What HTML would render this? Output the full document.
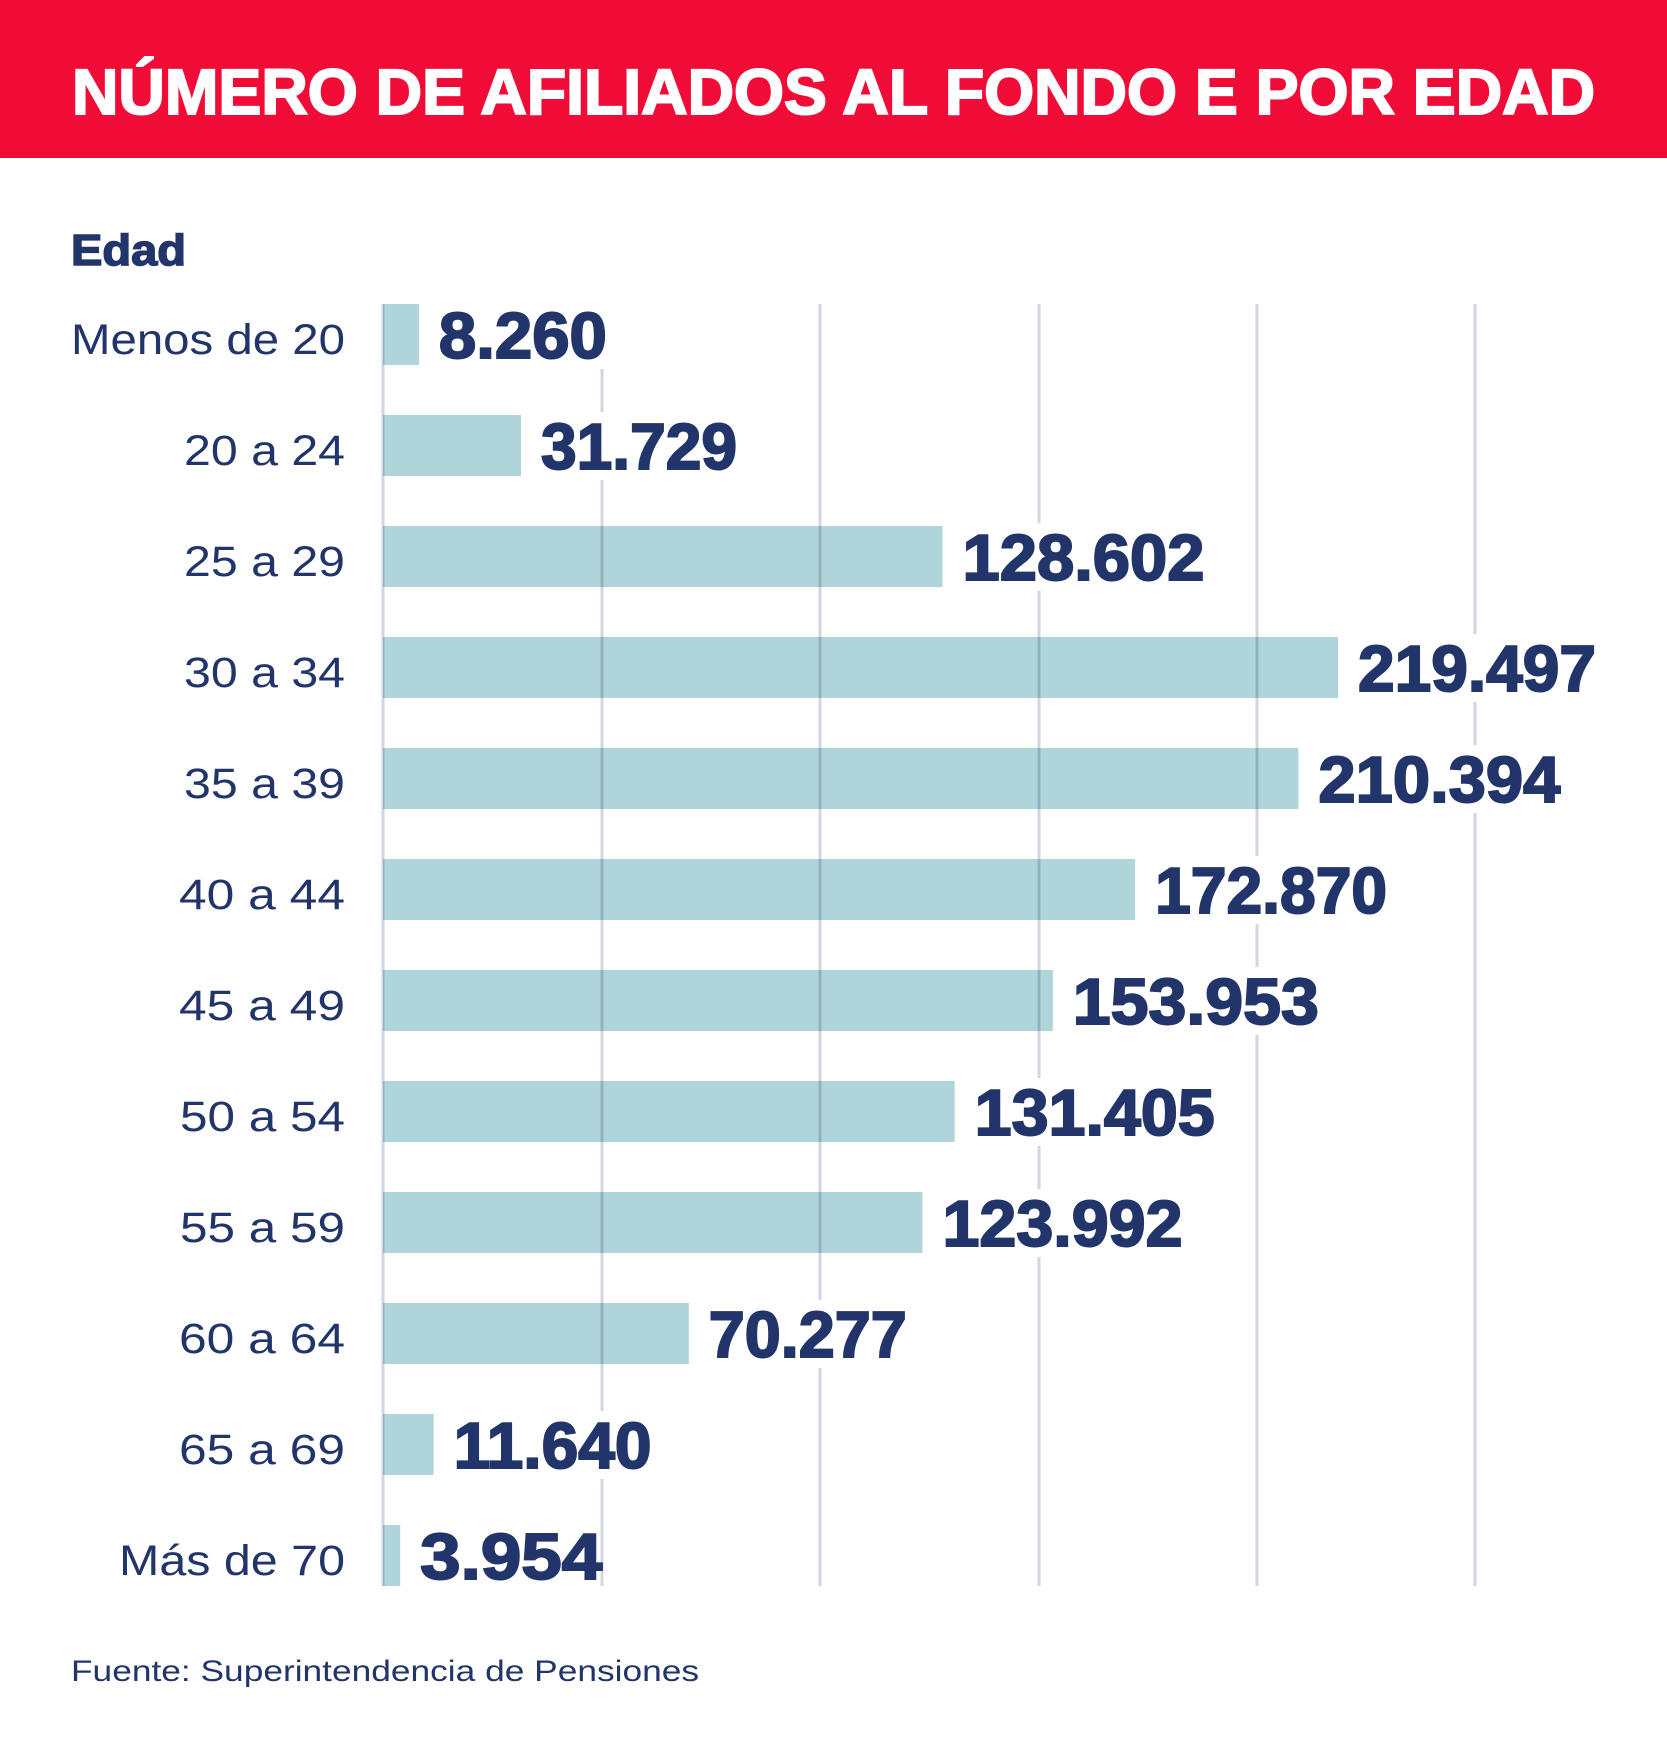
<!DOCTYPE html>
<html><head><meta charset="utf-8"><style>html,body{margin:0;padding:0;background:#fff}svg{display:block}</style></head>
<body>
<svg width="1667" height="1758" viewBox="0 0 1667 1758" xmlns="http://www.w3.org/2000/svg" font-family="Liberation Sans, sans-serif">
<rect x="0" y="0" width="1667" height="158" fill="#f00c36"/>
<text x="72" y="114" font-size="64" font-weight="bold" fill="#fff" stroke="#fff" stroke-width="2" textLength="1523" lengthAdjust="spacingAndGlyphs">NÚMERO DE AFILIADOS AL FONDO E POR EDAD</text>
<text x="71" y="265" font-size="44" font-weight="bold" fill="#22356b" stroke="#22356b" stroke-width="1.5" textLength="115" lengthAdjust="spacingAndGlyphs">Edad</text>
<g stroke="#d3d6e2" stroke-width="3">
<line x1="383" y1="304" x2="383" y2="1586"/>
<line x1="602" y1="304" x2="602" y2="1586"/>
<line x1="820" y1="304" x2="820" y2="1586"/>
<line x1="1039" y1="304" x2="1039" y2="1586"/>
<line x1="1257" y1="304" x2="1257" y2="1586"/>
<line x1="1475" y1="304" x2="1475" y2="1586"/>
</g>
<g fill="#afd4d9" style="mix-blend-mode:multiply">
<rect x="383" y="304" width="35.9" height="61"/>
<rect x="383" y="415" width="138" height="61"/>
<rect x="383" y="526" width="559.5" height="61"/>
<rect x="383" y="637" width="955" height="61"/>
<rect x="383" y="748" width="915.4" height="61"/>
<rect x="383" y="859" width="752.1" height="61"/>
<rect x="383" y="970" width="669.8" height="61"/>
<rect x="383" y="1081" width="571.7" height="61"/>
<rect x="383" y="1192" width="539.5" height="61"/>
<rect x="383" y="1303" width="305.8" height="61"/>
<rect x="383" y="1414" width="50.6" height="61"/>
<rect x="383" y="1525" width="17.2" height="61"/>
</g>
<g fill="#fff">
<rect x="432.9" y="301" width="180" height="68"/>
<rect x="535" y="412" width="214" height="68"/>
<rect x="956.5" y="523" width="250" height="68"/>
<rect x="1352" y="634" width="250" height="68"/>
<rect x="1312.4" y="745" width="250" height="68"/>
<rect x="1149.1" y="856" width="250" height="68"/>
<rect x="1066.8" y="967" width="250" height="68"/>
<rect x="968.7" y="1078" width="250" height="68"/>
<rect x="936.5" y="1189" width="250" height="68"/>
<rect x="702.8" y="1300" width="214" height="68"/>
<rect x="447.6" y="1411" width="214" height="68"/>
<rect x="414.2" y="1522" width="180" height="68"/>
</g>
<g font-size="65" font-weight="bold" fill="#22356b" stroke="#22356b" stroke-width="2">
<text x="438.9" y="358" textLength="168" lengthAdjust="spacingAndGlyphs">8.260</text>
<text x="541" y="469" textLength="196" lengthAdjust="spacingAndGlyphs">31.729</text>
<text x="962.5" y="580" textLength="242" lengthAdjust="spacingAndGlyphs">128.602</text>
<text x="1358" y="691" textLength="238" lengthAdjust="spacingAndGlyphs">219.497</text>
<text x="1318.4" y="802" textLength="242" lengthAdjust="spacingAndGlyphs">210.394</text>
<text x="1155.1" y="913" textLength="232" lengthAdjust="spacingAndGlyphs">172.870</text>
<text x="1072.8" y="1024" textLength="246" lengthAdjust="spacingAndGlyphs">153.953</text>
<text x="974.7" y="1135" textLength="240" lengthAdjust="spacingAndGlyphs">131.405</text>
<text x="942.5" y="1246" textLength="240" lengthAdjust="spacingAndGlyphs">123.992</text>
<text x="708.8" y="1357" textLength="198" lengthAdjust="spacingAndGlyphs">70.277</text>
<text x="453.6" y="1468" textLength="198" lengthAdjust="spacingAndGlyphs">11.640</text>
<text x="420.2" y="1579" textLength="182" lengthAdjust="spacingAndGlyphs">3.954</text>
</g>
<g font-size="43" fill="#22356b" text-anchor="end">
<text x="345" y="354" textLength="274" lengthAdjust="spacingAndGlyphs">Menos de 20</text>
<text x="345" y="465" textLength="161" lengthAdjust="spacingAndGlyphs">20 a 24</text>
<text x="345" y="576" textLength="161" lengthAdjust="spacingAndGlyphs">25 a 29</text>
<text x="345" y="687" textLength="161" lengthAdjust="spacingAndGlyphs">30 a 34</text>
<text x="345" y="798" textLength="161" lengthAdjust="spacingAndGlyphs">35 a 39</text>
<text x="345" y="909" textLength="166" lengthAdjust="spacingAndGlyphs">40 a 44</text>
<text x="345" y="1020" textLength="166" lengthAdjust="spacingAndGlyphs">45 a 49</text>
<text x="345" y="1131" textLength="165" lengthAdjust="spacingAndGlyphs">50 a 54</text>
<text x="345" y="1242" textLength="165" lengthAdjust="spacingAndGlyphs">55 a 59</text>
<text x="345" y="1353" textLength="166" lengthAdjust="spacingAndGlyphs">60 a 64</text>
<text x="345" y="1464" textLength="166" lengthAdjust="spacingAndGlyphs">65 a 69</text>
<text x="345" y="1575" textLength="226" lengthAdjust="spacingAndGlyphs">Más de 70</text>
</g>
<text x="71" y="1681" font-size="30" fill="#22356b" textLength="628" lengthAdjust="spacingAndGlyphs">Fuente: Superintendencia de Pensiones</text>
</svg>
</body></html>
